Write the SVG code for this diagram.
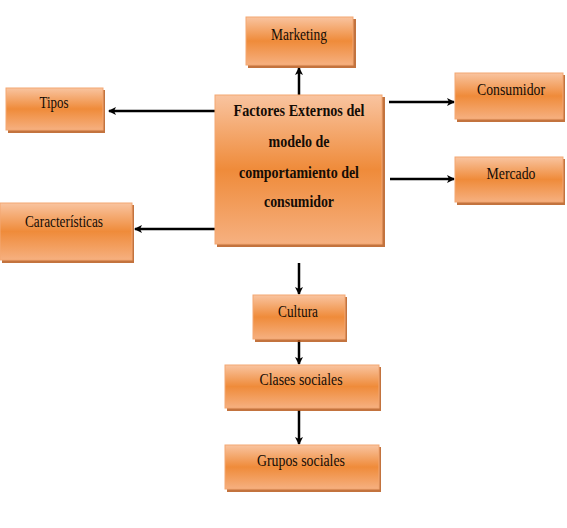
<svg xmlns="http://www.w3.org/2000/svg" width="567" height="528" viewBox="0 0 567 528">
<defs>
<linearGradient id="g" x1="0" y1="0" x2="0" y2="1">
<stop offset="0" stop-color="#f9c4a0"/>
<stop offset="0.5" stop-color="#ef8b3a"/>
<stop offset="1" stop-color="#f6b080"/>
</linearGradient>
<marker id="ah" markerWidth="8" markerHeight="8" refX="7" refY="4" orient="auto" markerUnits="userSpaceOnUse">
<path d="M0,0 L8,4 L0,8 L2,4 Z" fill="#000"/>
</marker>
<style>
.sh{fill:#b95a1c;opacity:0.85}
.bx{fill:url(#g);stroke:#f3a772;stroke-width:1}
text{font-family:'Liberation Serif','Times New Roman','DejaVu Serif',serif;fill:#140c05;text-anchor:middle}
.t{font-size:16px}
.tb{font-size:17px;font-weight:bold}
.c{stroke:#000;stroke-width:2.5;fill:none;marker-end:url(#ah)}
</style>
</defs>
<rect width="567" height="528" fill="#fff"/>
<g id="connectors">
<line class="c" x1="299" y1="95" x2="299" y2="68"/>
<line class="c" x1="215" y1="111" x2="109" y2="111"/>
<line class="c" x1="215" y1="229" x2="135" y2="229"/>
<line class="c" x1="389" y1="102" x2="454" y2="102"/>
<line class="c" x1="390" y1="179" x2="454" y2="179"/>
<line class="c" x1="299" y1="263" x2="299" y2="294"/>
<line class="c" x1="299" y1="340" x2="299" y2="364"/>
<line class="c" x1="299" y1="410" x2="299" y2="444"/>
</g>
<g id="marketing">
<rect class="sh" x="248" y="19" width="108" height="49"/>
<rect class="bx" x="246" y="17" width="107" height="48"/>
<text class="t" x="299" y="40" textLength="56" lengthAdjust="spacingAndGlyphs" font-family="Liberation Serif, serif">Marketing</text>
</g>
<g id="central">
<rect class="sh" x="217" y="97" width="168" height="150"/>
<rect class="bx" x="215" y="95" width="167" height="149"/>
<text class="tb" x="299" y="116" textLength="131" lengthAdjust="spacingAndGlyphs">Factores Externos del</text>
<text class="tb" x="299" y="147" textLength="61" lengthAdjust="spacingAndGlyphs">modelo de</text>
<text class="tb" x="299" y="178" textLength="120" lengthAdjust="spacingAndGlyphs">comportamiento del</text>
<text class="tb" x="299" y="207" textLength="70" lengthAdjust="spacingAndGlyphs">consumidor</text>
</g>
<g id="tipos">
<rect class="sh" x="8" y="90" width="97" height="43"/>
<rect class="bx" x="6" y="88" width="97" height="42"/>
<text class="t" x="54" y="108" textLength="29" lengthAdjust="spacingAndGlyphs">Tipos</text>
</g>
<g id="caracteristicas">
<rect class="sh" x="2" y="205" width="132" height="58"/>
<rect class="bx" x="0" y="203" width="132" height="57"/>
<text class="t" x="64" y="227" textLength="78" lengthAdjust="spacingAndGlyphs">Características</text>
</g>
<g id="consumidor">
<rect class="sh" x="457" y="75" width="108" height="47"/>
<rect class="bx" x="455" y="73" width="108" height="46"/>
<text class="t" x="511" y="95" textLength="68" lengthAdjust="spacingAndGlyphs">Consumidor</text>
</g>
<g id="mercado">
<rect class="sh" x="457" y="159" width="108" height="46"/>
<rect class="bx" x="455" y="157" width="108" height="45"/>
<text class="t" x="511" y="179" textLength="49" lengthAdjust="spacingAndGlyphs">Mercado</text>
</g>
<g id="cultura">
<rect class="sh" x="255" y="297" width="92" height="45"/>
<rect class="bx" x="253" y="295" width="92" height="44"/>
<text class="t" x="298" y="317" textLength="40" lengthAdjust="spacingAndGlyphs">Cultura</text>
</g>
<g id="clases">
<rect class="sh" x="227" y="367" width="154" height="44"/>
<rect class="bx" x="225" y="365" width="154" height="43"/>
<text class="t" x="301" y="385" textLength="83" lengthAdjust="spacingAndGlyphs">Clases sociales</text>
</g>
<g id="grupos">
<rect class="sh" x="227" y="447" width="154" height="45"/>
<rect class="bx" x="225" y="445" width="154" height="44"/>
<text class="t" x="301" y="466" textLength="88" lengthAdjust="spacingAndGlyphs">Grupos sociales</text>
</g>
</svg>
